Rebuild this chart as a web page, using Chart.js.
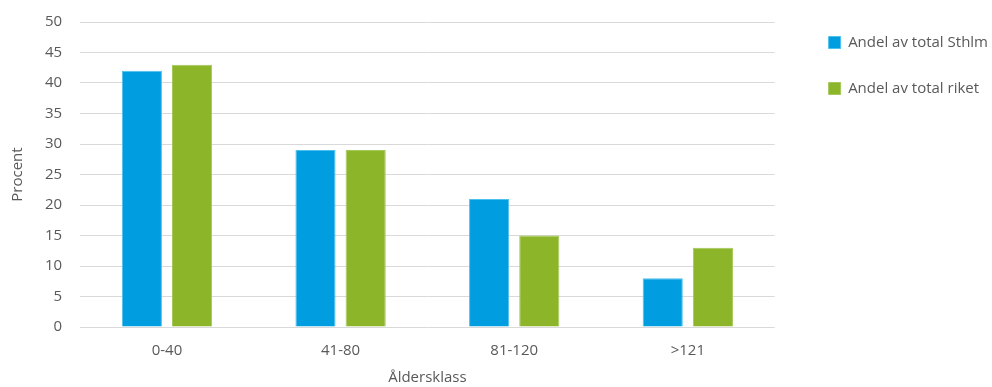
<!DOCTYPE html>
<html>
<head>
<meta charset="utf-8">
<script src="https://cdn.jsdelivr.net/npm/chart.js@4"></script>
<style>
  body { margin: 0; background: #fff; }
  #wrap { width: 992px; height: 387px; }
</style>
</head>
<body>
<div id="wrap"><canvas id="aldersChart" width="992" height="387"></canvas></div>
<script>
const kategorier = ['0-40', '41-80', '81-120', '>121'];
const andelSthlm = [42, 29, 21, 8];
const andelRiket = [43, 29, 15, 13];
const yTicks = [0, 5, 10, 15, 20, 25, 30, 35, 40, 45, 50];

const textFarg = '#595959';
const font = 'Open Sans, Liberation Sans, sans-serif';

// flytta legenden efter layout så att plotytan slutar där referensen gör
const legendFlytt = {
    id: 'legendFlytt',
    afterLayout(chart) {
        const lg = chart.legend;
        if (lg) {
            lg.left += 23;
            lg.right += 23;
            lg.top -= 18;
            lg.bottom -= 18;
        }
    }
};

document.addEventListener('DOMContentLoaded', () => {
    const ctx = document.getElementById('aldersChart').getContext('2d');
    new Chart(ctx, {
        type: 'bar',
        data: {
            labels: kategorier,
            datasets: [{
                label: 'Andel av total Sthlm',
                data: andelSthlm,
                backgroundColor: '#009de0',
                borderColor: '#4cc0ee',
                borderWidth: 1
            }, {
                label: 'Andel av total riket',
                data: andelRiket,
                backgroundColor: '#8db52a',
                borderColor: '#a5c85a',
                borderWidth: 1
            }]
        },
        plugins: [legendFlytt],
        options: {
            responsive: false,
            animation: false,
            layout: { padding: { top: 22, right: 17, bottom: 0, left: 9 } },
            datasets: {
                bar: { categoryPercentage: 0.578, barPercentage: 0.8 }
            },
            plugins: {
                legend: {
                    position: 'right',
                    align: 'start',
                    labels: {
                        boxWidth: 12,
                        boxHeight: 12,
                        padding: 31,
                        color: textFarg,
                        font: { family: font, size: 15 }
                    }
                },
                tooltip: { enabled: false }
            },
            scales: {
                x: {
                    grid: { display: false },
                    border: { display: false },
                    ticks: { color: textFarg, font: { family: font, size: 15 }, padding: 7 },
                    title: {
                        display: true,
                        text: 'Åldersklass',
                        color: textFarg,
                        font: { family: font, size: 15 },
                        padding: { top: 2, bottom: 0 }
                    }
                },
                y: {
                    min: 0,
                    max: 50,
                    afterBuildTicks: (axis) => { axis.ticks = yTicks.map(v => ({ value: v })); },
                    afterFit: (axis) => { axis.paddingTop = 0; axis.paddingBottom = 0; },
                    grid: { color: '#d9d9d9', drawTicks: false },
                    border: { display: false },
                    ticks: { color: textFarg, font: { family: font, size: 15 }, padding: 18 },
                    title: {
                        display: true,
                        text: 'Procent',
                        color: textFarg,
                        font: { family: font, size: 15 },
                        padding: { top: 0, bottom: 0 }
                    }
                }
            }
        }
    });
});
</script>
</body>
</html>
